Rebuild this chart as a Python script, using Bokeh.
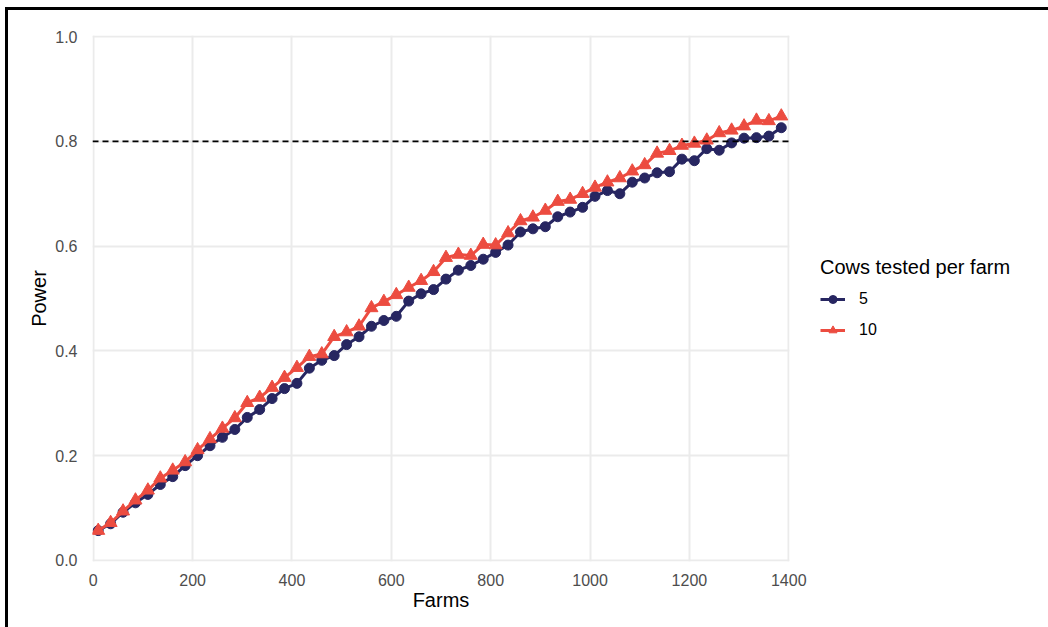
from bokeh.plotting import figure
from bokeh.models import Range1d, Span, Legend, LegendItem, FixedTicker, CustomJSTickFormatter
from bokeh.embed import file_html
from bokeh.resources import INLINE

farms = [10, 35, 60, 85, 110, 135, 160, 185, 210, 235, 260, 285, 310, 335, 360, 385,
         410, 435, 460, 485, 510, 535, 560, 585, 610, 635, 660, 685, 710, 735, 760, 785,
         810, 835, 860, 885, 910, 935, 960, 985, 1010, 1035, 1060, 1085, 1110, 1135, 1160,
         1185, 1210, 1235, 1260, 1285, 1310, 1335, 1360, 1385]

power_5 = [0.057, 0.070, 0.092, 0.110, 0.126, 0.145, 0.160, 0.181, 0.200, 0.219, 0.235, 0.250,
           0.273, 0.288, 0.309, 0.328, 0.338, 0.367, 0.382, 0.391, 0.412, 0.427, 0.447, 0.458,
           0.466, 0.495, 0.509, 0.517, 0.537, 0.554, 0.563, 0.575, 0.588, 0.602, 0.627, 0.633,
           0.637, 0.656, 0.665, 0.674, 0.695, 0.706, 0.700, 0.722, 0.730, 0.740, 0.742, 0.766,
           0.763, 0.786, 0.783, 0.797, 0.806, 0.807, 0.810, 0.826]

power_10 = [0.057, 0.072, 0.094, 0.115, 0.134, 0.157, 0.172, 0.188, 0.211, 0.232, 0.252, 0.272,
            0.301, 0.311, 0.330, 0.349, 0.368, 0.389, 0.394, 0.427, 0.436, 0.447, 0.482, 0.494,
            0.507, 0.521, 0.534, 0.551, 0.578, 0.584, 0.582, 0.603, 0.602, 0.625, 0.648, 0.655,
            0.668, 0.685, 0.689, 0.700, 0.712, 0.722, 0.730, 0.743, 0.755, 0.777, 0.782, 0.792,
            0.796, 0.802, 0.816, 0.821, 0.829, 0.840, 0.839, 0.848]

x_ticks = [0, 200, 400, 600, 800, 1000, 1200, 1400]
y_ticks = [0.0, 0.2, 0.4, 0.6, 0.8, 1.0]
target_power = 0.8

series_names = ["5", "10"]
colors = ["#272661", "#EC4C40"]

FONT = "Liberation Sans"

p = figure(frame_width=697, frame_height=526, output_backend="svg", toolbar_location=None,
           x_range=Range1d(-1.5, 1401.5), y_range=Range1d(-0.002, 1.002),
           min_border_left=84, min_border_top=25, min_border_bottom=66, min_border_right=251,
           background_fill_color="white", border_fill_color="white")
p.outline_line_color = None
p.styles = {"border-top": "3px solid black", "border-left": "3px solid black",
            "margin-top": "7px", "margin-left": "5px"}

for ax in (p.xaxis[0], p.yaxis[0]):
    ax.axis_line_color = None
    ax.major_tick_line_color = None
    ax.minor_tick_line_color = None
    ax.major_label_text_font = FONT
    ax.major_label_text_font_size = "16px"
    ax.major_label_text_color = "#4D4D4D"
    ax.axis_label_text_font = FONT
    ax.axis_label_text_font_size = "20px"
    ax.axis_label_text_font_style = "normal"
    ax.axis_label_text_color = "black"

p.xaxis.ticker = FixedTicker(ticks=x_ticks)
p.yaxis.ticker = FixedTicker(ticks=y_ticks)
p.yaxis.formatter = CustomJSTickFormatter(code="return tick.toFixed(1);")
p.xaxis.axis_label = "Farms"
p.yaxis.axis_label = "Power"
p.xaxis.major_label_standoff = 6
p.xaxis.axis_label_standoff = 0
p.yaxis.major_label_standoff = 9
p.yaxis.axis_label_standoff = 2

p.xgrid.grid_line_color = "#EBEBEB"
p.ygrid.grid_line_color = "#EBEBEB"
p.xgrid.grid_line_width = 2
p.ygrid.grid_line_width = 2
p.xgrid.ticker = FixedTicker(ticks=x_ticks)
p.ygrid.ticker = FixedTicker(ticks=y_ticks)

hl = Span(location=target_power, dimension="width", line_color="black",
          line_dash="6 4", line_width=1.8)
p.add_layout(hl)

l5 = p.line(farms, power_5, line_color=colors[0], line_width=3)
s5 = p.scatter(farms, power_5, marker="circle", size=10, fill_color=colors[0], line_color=colors[0])
l10 = p.line(farms, power_10, line_color=colors[1], line_width=3)
s10 = p.scatter(farms, power_10, marker="triangle", size=13, fill_color=colors[1], line_color=colors[1])

legend = Legend(items=[LegendItem(label=series_names[0], renderers=[l5, s5]),
                       LegendItem(label=series_names[1], renderers=[l10, s10])],
                title="Cows tested per farm", location="center_left")
legend.title_text_font = FONT
legend.title_text_font_size = "20px"
legend.title_text_font_style = "normal"
legend.title_text_color = "black"
legend.title_standoff = 10
legend.label_text_font = FONT
legend.label_text_font_size = "16px"
legend.label_text_color = "black"
legend.glyph_width = 25
legend.glyph_height = 20
legend.label_height = 20
legend.label_standoff = 14
legend.spacing = 11
legend.padding = 0
legend.margin = 31
legend.border_line_color = None
legend.background_fill_alpha = 0
p.add_layout(legend, "right")

open("out.html", "w").write(file_html(p, INLINE))
